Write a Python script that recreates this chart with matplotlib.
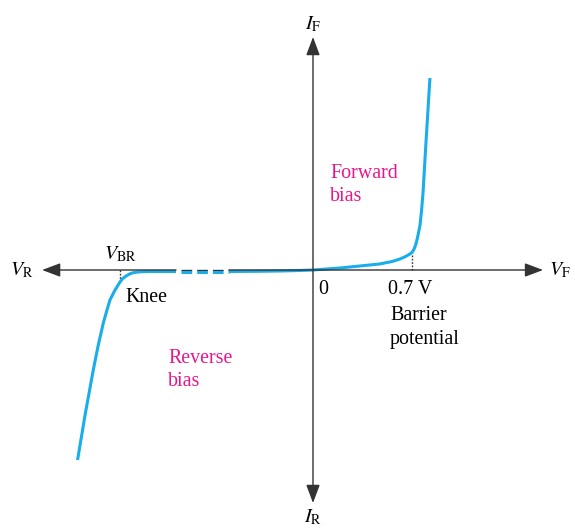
import numpy as np
import matplotlib.pyplot as plt

plt.rcParams['font.family'] = ['Liberation Serif', 'DejaVu Serif']
plt.rcParams['mathtext.fontset'] = 'stix'
plt.rcParams['lines.scale_dashes'] = False

# forward branch (V, mA-ish units)
fwd_v = [0.0, 0.19, 0.33, 0.47, 0.56, 0.615, 0.655, 0.685, 0.70, 0.715, 0.728,
         0.74, 0.757, 0.768, 0.778, 0.80, 0.827]
fwd_i = [0.0, 0.2, 0.4, 0.6, 0.85, 1.1, 1.35, 1.6, 1.75, 2.1, 2.6,
         3.3, 4.5, 6.0, 7.7, 13.0, 19.2]

# reverse branch, left of the break
rev_v = [-1.665, -1.612, -1.554, -1.52, -1.483, -1.455, -1.436, -1.40, -1.365,
         -1.345, -1.322, -1.30, -1.28, -1.25, -1.223, -1.153, -0.969]
rev_i = [-19.0, -14.5, -10.0, -7.6, -5.3, -3.9, -3.0, -2.0, -1.2,
         -0.85, -0.6, -0.42, -0.3, -0.22, -0.18, -0.15, -0.15]
# reverse branch, right of the break
rev2_v = [-0.594, -0.40, -0.233, -0.10, 0.0]
rev2_i = [-0.15, -0.13, -0.10, -0.05, 0.0]

brk = [-0.969, -0.594]
v_knee, i_knee = -1.365, -1.2
v_bar, i_bar = 0.70, 1.75

blue = '#19AEEA'
pink = '#E8168C'
grey = '#333333'

fig = plt.figure(figsize=(5.75, 5.31), dpi=100)
ax = fig.add_axes([0, 0, 1, 1])
ppv, ppi = 141.4, 10.0
ax.set_xlim(-313 / ppv, 262 / ppv)
ax.set_ylim(-261 / ppi, 270 / ppi)
ax.axis('off')

arw = dict(arrowstyle='-|>,head_length=0.8,head_width=0.3', mutation_scale=14,
           color=grey, lw=1.0, shrinkA=0, shrinkB=0)
# horizontal axis
ax.annotate('', xy=(-1.916, 0), xytext=(brk[0], 0), arrowprops=arw)
ax.annotate('', xy=(1.627, 0), xytext=(brk[1], 0), arrowprops=arw)
dash = (10.7 * 0.72, (10.7 * 0.72, 5.0 * 0.72))
ax.plot(brk, [0, 0], color=grey, lw=1.0, linestyle=dash, dash_capstyle='butt')
# vertical axis
ax.annotate('', xy=(0, 23.3), xytext=(0, -23.3),
            arrowprops=dict(arw, arrowstyle='<|-|>,head_length=0.8,head_width=0.3'))

# dotted markers
ax.plot([v_bar, v_bar], [0, i_bar], color=grey, lw=1.0, ls=(0, (1.2, 1.2)))
ax.plot([v_knee, v_knee], [0, i_knee], color=grey, lw=1.0, ls=(0, (1.2, 1.2)))

# curve
ax.plot(fwd_v, fwd_i, color=blue, lw=2.2, solid_capstyle='butt', solid_joinstyle='round')
ax.plot(rev_v, rev_i, color=blue, lw=2.2, solid_capstyle='butt', solid_joinstyle='round')
ax.plot(rev2_v, rev2_i, color=blue, lw=2.2, solid_capstyle='butt')
ax.plot(brk, [-0.15, -0.15], color=blue, lw=2.2, linestyle=dash, dash_capstyle='butt')

fs = 14.4
ax.text(-2.058, 0, r'$V_{\mathrm{R}}$', fontsize=fs, ha='center', va='center')
ax.text(1.747, 0, r'$V_{\mathrm{F}}$', fontsize=fs, ha='center', va='center')
ax.text(0, 24.6, r'$I_{\mathrm{F}}$', fontsize=fs, ha='center', va='center')
ax.text(0, -24.7, r'$I_{\mathrm{R}}$', fontsize=fs, ha='center', va='center')
ax.text(v_knee, 1.6, r'$V_{\mathrm{BR}}$', fontsize=fs, ha='center', va='center')
ax.text(-1.33, -2.8, 'Knee', fontsize=fs, ha='left', va='center')
ax.text(0.035, -2.0, '0', fontsize=fs, ha='left', va='center')
ax.text(0.53, -2.0, '0.7 V', fontsize=fs, ha='left', va='center')
ax.text(0.545, -5.75, 'Barrier\npotential', fontsize=fs, ha='left', va='center',
        linespacing=1.3)
ax.text(0.12, 8.5, 'Forward\nbias', fontsize=fs, ha='left', va='center',
        color=pink, linespacing=1.35)
ax.text(-1.025, -10.0, 'Reverse\nbias', fontsize=fs, ha='left', va='center',
        color=pink, linespacing=1.35)

fig.savefig('out.png', dpi=100)
